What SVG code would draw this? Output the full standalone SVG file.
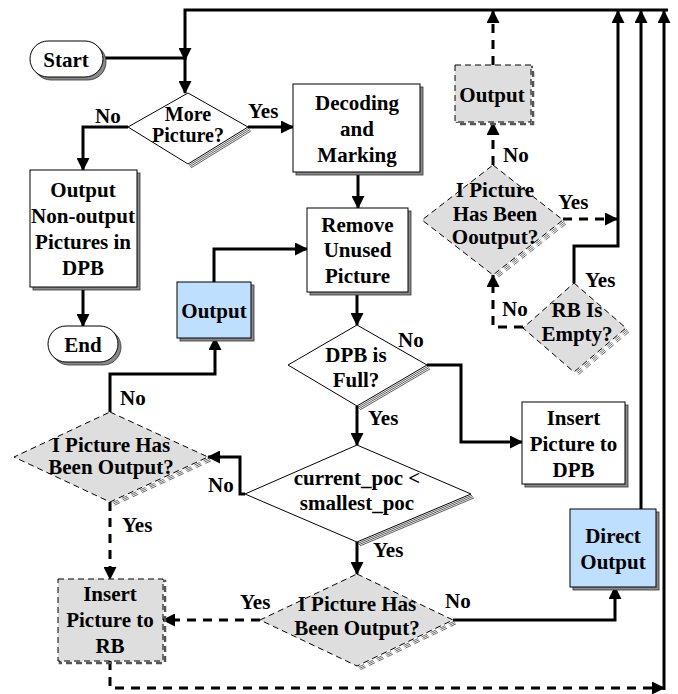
<svg xmlns="http://www.w3.org/2000/svg" width="678" height="694" viewBox="0 0 678 694" font-family="Liberation Serif, Times New Roman, serif">
  <style>
    .t { font-weight: bold; font-size: 21px; text-anchor: middle; fill: #000; }
    .s20 { font-size: 20px; }
    .lbl { text-anchor: start; }
    .box { fill: #fff; stroke: #000; stroke-width: 1; }
    .blue { fill: #BFDFFF; }
    .grey { fill: #DEDEDE; }
    .dashed { stroke-dasharray: 6 4; }
    .shadow { fill: #8a8a8a; stroke: #333; stroke-width: 0.8; }
    .dshadow { fill: none; stroke: #555; stroke-width: 2.5; stroke-dasharray: 6 4; }
    .hatch { fill: none; stroke: #333; stroke-width: 0.8; }
    .dhatch { fill: none; stroke: #444; stroke-width: 0.8; stroke-dasharray: 6 4; }
    .conn { fill: none; stroke: #000; stroke-width: 3; }
    .dconn { stroke-dasharray: 9 7; }
  </style>
  <defs>
    <marker id="arrow" markerUnits="userSpaceOnUse" markerWidth="13" markerHeight="13" refX="12" refY="6.5" orient="auto">
      <path d="M0,0 L13,6.5 L0,13 Z" fill="#000"/>
    </marker>
  </defs>

  <rect width="678" height="694" fill="#fff"/>

  <!-- connectors -->
  <g id="connectors" class="conn">
    <path d="M668,10 H185 V60" marker-end="url(#arrow)"/>
    <path d="M103,58 H185 V93" marker-end="url(#arrow)"/>
    <path d="M128,127 H83 V170" marker-end="url(#arrow)"/>
    <path d="M248,127 H293" marker-end="url(#arrow)"/>
    <path d="M358,172 V208" marker-end="url(#arrow)"/>
    <path d="M83,287 V326" marker-end="url(#arrow)"/>
    <path d="M214,282 V249 H307" marker-end="url(#arrow)"/>
    <path d="M357,292 V325" marker-end="url(#arrow)"/>
    <path d="M427,365 H461 V442 H522" marker-end="url(#arrow)"/>
    <path d="M357,406 V445" marker-end="url(#arrow)"/>
    <path d="M245,494 H240 V457 H208" marker-end="url(#arrow)"/>
    <path d="M110,412 V374 H215 V338" marker-end="url(#arrow)"/>
    <path class="dconn" d="M110,502 V579" marker-end="url(#arrow)"/>
    <path d="M357,542 V574" marker-end="url(#arrow)"/>
    <path class="dconn" d="M260,620 H163" marker-end="url(#arrow)"/>
    <path d="M453,620 H615 V587" marker-end="url(#arrow)"/>
    <path class="dconn" d="M110,661 V688 H664" marker-end="url(#arrow)"/>
    <path d="M664,690 V11" marker-end="url(#arrow)"/>
    <path d="M641,509 V11" marker-end="url(#arrow)"/>
    <path d="M574,283 V246 H618 V11" marker-end="url(#arrow)"/>
    <path class="dconn" d="M563,219 H617" marker-end="url(#arrow)"/>
    <path class="dconn" d="M523,327 H493 V275" marker-end="url(#arrow)"/>
    <path class="dconn" d="M493,165 V123" marker-end="url(#arrow)"/>
    <path class="dconn" d="M493,65 V11" marker-end="url(#arrow)"/>
  </g>

  <!-- start / end terminals -->
  <g id="start">
    <rect class="shadow" x="33" y="44" width="73" height="36" rx="18"/>
    <rect class="box" x="30" y="41" width="73" height="36" rx="18"/>
    <text class="t" x="66" y="67">Start</text>
  </g>
  <g id="end">
    <rect class="shadow" x="51" y="329" width="70" height="36" rx="18"/>
    <rect class="box" x="48" y="326" width="70" height="36" rx="18"/>
    <text class="t" x="83" y="352">End</text>
  </g>

  <!-- decisions -->
  <g id="more-picture">
    <g class="hatch">
      <path d="M248,127 L188,164" transform="translate(1,1.3)"/>
      <path d="M248,127 L188,164" transform="translate(2,2.6)"/>
      <path d="M248,127 L188,164" transform="translate(3,3.9)"/>
    </g>
    <polygon class="box" points="188,93 248,127 188,164 128,127"/>
    <text class="t s20" x="188" y="121">More</text>
    <text class="t s20" x="188" y="142">Picture?</text>
  </g>

  <g id="dpb-full">
    <g class="hatch">
      <path d="M427,365 L357,406" transform="translate(1,1.3)"/>
      <path d="M427,365 L357,406" transform="translate(2,2.6)"/>
      <path d="M427,365 L357,406" transform="translate(3,3.9)"/>
    </g>
    <polygon class="box" points="357,325 427,365 357,406 288,365"/>
    <text class="t" x="356" y="362">DPB is</text>
    <text class="t" x="356" y="387">Full?</text>
  </g>

  <g id="poc-compare">
    <g class="hatch">
      <path d="M471,494 L357,542" transform="translate(1,1.3)"/>
      <path d="M471,494 L357,542" transform="translate(2,2.6)"/>
      <path d="M471,494 L357,542" transform="translate(3,3.9)"/>
    </g>
    <polygon class="box" points="357,445 471,494 357,542 245,494"/>
    <text class="t" x="357" y="485">current_poc &lt;</text>
    <text class="t" x="357" y="510">smallest_poc</text>
  </g>

  <g id="i-output-left">
    <g class="dhatch">
      <path d="M208,457 L110,502" transform="translate(1,1.3)"/>
      <path d="M208,457 L110,502" transform="translate(2,2.6)"/>
      <path d="M208,457 L110,502" transform="translate(3,3.9)"/>
    </g>
    <polygon class="box grey dashed" points="110,412 208,457 110,502 14,457"/>
    <text class="t" x="111" y="452">I Picture Has</text>
    <text class="t" x="111" y="474">Been Output?</text>
  </g>

  <g id="i-output-bottom">
    <g class="dhatch">
      <path d="M453,620 L357,666" transform="translate(1,1.3)"/>
      <path d="M453,620 L357,666" transform="translate(2,2.6)"/>
      <path d="M453,620 L357,666" transform="translate(3,3.9)"/>
    </g>
    <polygon class="box grey dashed" points="357,574 453,620 357,666 260,620"/>
    <text class="t" x="357" y="611">I Picture Has</text>
    <text class="t" x="357" y="635">Been Output?</text>
  </g>

  <g id="rb-empty">
    <g class="dhatch">
      <path d="M626,328 L574,372" transform="translate(1,1.3)"/>
      <path d="M626,328 L574,372" transform="translate(2,2.6)"/>
      <path d="M626,328 L574,372" transform="translate(3,3.9)"/>
    </g>
    <polygon class="box grey dashed" points="574,283 626,328 574,372 523,328"/>
    <text class="t" x="577" y="317">RB Is</text>
    <text class="t" x="577" y="341">Empty?</text>
  </g>

  <g id="i-output-top">
    <g class="dhatch">
      <path d="M563,220 L493,275" transform="translate(1,1.3)"/>
      <path d="M563,220 L493,275" transform="translate(2,2.6)"/>
      <path d="M563,220 L493,275" transform="translate(3,3.9)"/>
    </g>
    <polygon class="box grey dashed" points="493,165 563,220 493,275 422,220"/>
    <text class="t" x="495" y="197">I Picture</text>
    <text class="t" x="495" y="221">Has Been</text>
    <text class="t" x="495" y="244">Ooutput?</text>
  </g>

  <!-- process boxes -->
  <g id="decoding">
    <rect class="shadow" x="296" y="87" width="127" height="88"/>
    <rect class="box" x="293" y="84" width="127" height="88"/>
    <text class="t" x="357" y="110">Decoding</text>
    <text class="t" x="357" y="136">and</text>
    <text class="t" x="357" y="162">Marking</text>
  </g>

  <g id="output-nonoutput">
    <rect class="shadow" x="33" y="173" width="107" height="117"/>
    <rect class="box" x="30" y="170" width="107" height="117"/>
    <text class="t" x="83" y="197">Output</text>
    <text class="t" x="83" y="223">Non-output</text>
    <text class="t" x="83" y="249">Pictures in</text>
    <text class="t" x="83" y="275">DPB</text>
  </g>

  <g id="output-left">
    <rect class="shadow" x="180" y="285" width="74" height="56"/>
    <rect class="box blue" x="177" y="282" width="74" height="56"/>
    <text class="t" x="214" y="318">Output</text>
  </g>

  <g id="remove-unused">
    <rect class="shadow" x="310" y="211" width="101" height="84"/>
    <rect class="box" x="307" y="208" width="101" height="84"/>
    <text class="t" x="357.5" y="232">Remove</text>
    <text class="t" x="357.5" y="257">Unused</text>
    <text class="t" x="357.5" y="283">Picture</text>
  </g>

  <g id="insert-dpb">
    <rect class="shadow" x="525" y="405" width="103" height="82"/>
    <rect class="box" x="522" y="402" width="103" height="82"/>
    <text class="t" x="573.5" y="425">Insert</text>
    <text class="t" x="573.5" y="451">Picture to</text>
    <text class="t" x="573.5" y="477">DPB</text>
  </g>

  <g id="direct-output">
    <rect class="shadow" x="573" y="512" width="86" height="78"/>
    <rect class="box blue" x="570" y="509" width="86" height="78"/>
    <text class="t" x="613" y="543">Direct</text>
    <text class="t" x="613" y="569">Output</text>
  </g>

  <g id="insert-rb">
    <rect class="dshadow" x="60" y="581" width="105" height="82"/>
    <rect class="box grey dashed" x="58" y="579" width="105" height="82"/>
    <text class="t" x="110" y="601">Insert</text>
    <text class="t" x="110" y="627">Picture to</text>
    <text class="t" x="110" y="653">RB</text>
  </g>

  <g id="output-top">
    <rect class="dshadow" x="457" y="67" width="76" height="57"/>
    <rect class="box grey dashed" x="455" y="65" width="76" height="57"/>
    <text class="t" x="492" y="102">Output</text>
  </g>

  <!-- branch labels -->
  <g id="labels">
    <text class="t lbl" x="95" y="123">No</text>
    <text class="t lbl" x="248" y="118">Yes</text>
    <text class="t lbl" x="398" y="347">No</text>
    <text class="t lbl" x="368" y="425">Yes</text>
    <text class="t lbl" x="208" y="492">No</text>
    <text class="t lbl" x="373" y="557">Yes</text>
    <text class="t lbl" x="120" y="405">No</text>
    <text class="t lbl" x="122" y="532">Yes</text>
    <text class="t lbl" x="240" y="609">Yes</text>
    <text class="t lbl" x="445" y="608">No</text>
    <text class="t lbl" x="585" y="287">Yes</text>
    <text class="t lbl" x="502" y="316">No</text>
    <text class="t lbl" x="558" y="209">Yes</text>
    <text class="t lbl" x="503" y="162">No</text>
  </g>
</svg>
